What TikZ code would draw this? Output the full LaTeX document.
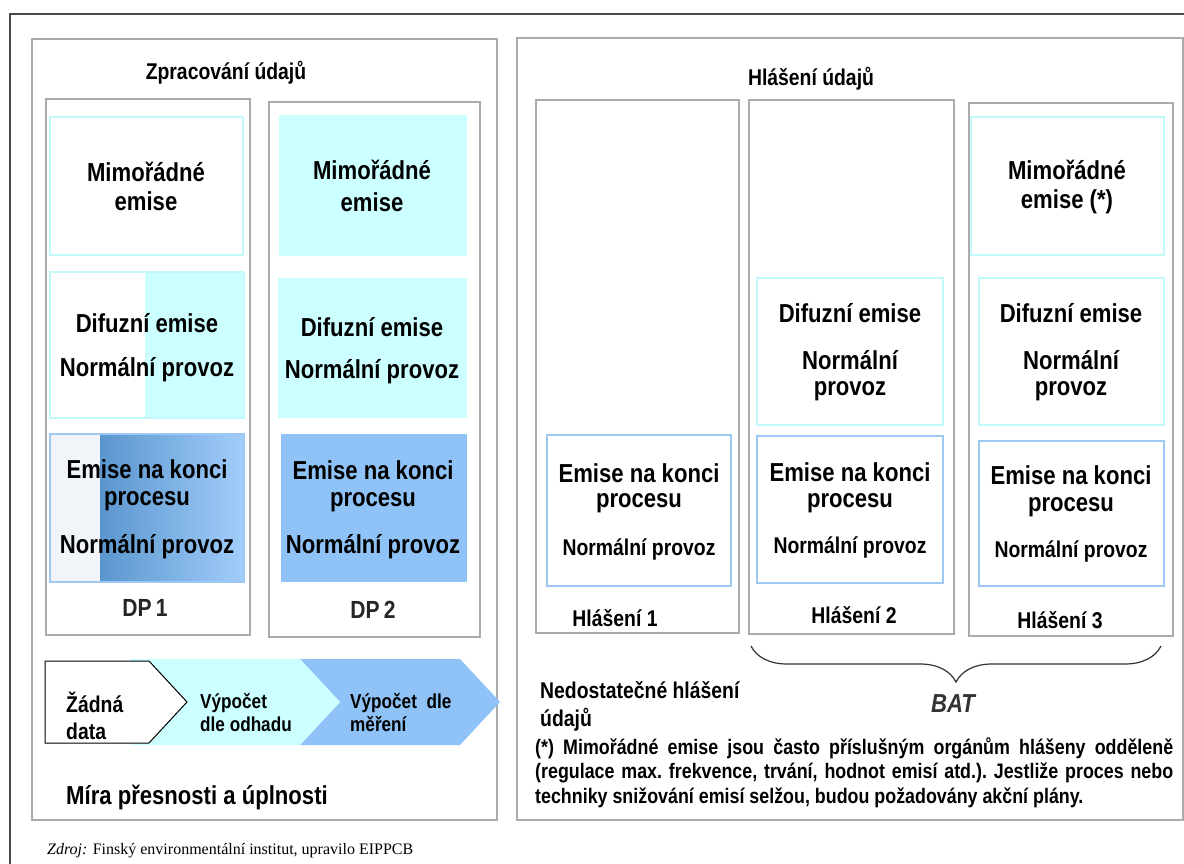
\documentclass[tikz,border=0pt]{standalone}
\usepackage{fontspec}
\setmainfont{Liberation Sans}[FakeStretch=0.85]
\newfontfamily\zdrojfont{Liberation Serif}
\usetikzlibrary{decorations.pathreplacing}
\definecolor{panelgray}{HTML}{ABABAB}
\definecolor{framegray}{HTML}{4A4A4A}
\definecolor{lightcyan}{HTML}{CCFFFF}
\definecolor{cyanline}{HTML}{C2FAFC}
\definecolor{midblue}{HTML}{8FC3F7}
\definecolor{blueline}{HTML}{9CC8F2}
\definecolor{darkblue}{HTML}{5A96CE}
\definecolor{paleblue}{HTML}{A2CDFB}
\definecolor{whiteblue}{HTML}{F1F5FA}
\tikzset{
  panel/.style={draw=panelgray, line width=1.6pt},
  column/.style={draw=panelgray, line width=1.4pt},
  cyanframe/.style={draw=cyanline, line width=1.6pt},
  blueframe/.style={draw=blueline, line width=1.6pt},
  bigtext/.style={inner sep=0pt, font=\fontsize{26}{31}\selectfont\bfseries},
  midtext/.style={inner sep=0pt, font=\fontsize{22.8}{28}\selectfont\bfseries},
  chevtext/.style={inner sep=0pt, anchor=west, align=left, font=\fontsize{20.2}{23}\selectfont\bfseries},
  dplabel/.style={inner sep=0pt, text=black!85, font=\fontsize{24.8}{29}\selectfont\bfseries},
}
\begin{document}
\begin{tikzpicture}[x=1pt, y=-1pt]
    \useasboundingbox (0,0) rectangle (1184,864);
    % Outer frame
    \draw[framegray, line width=1.3pt] (10,864) -- (10,14) -- (1184,14);
    % Panels
    \draw[panel] (32,39) rectangle (497,820);
    \draw[panel] (517,38) rectangle (1183,820);

    % ---- Data processing ----
    \node[midtext] (proctitle) at (226,73) {Zpracování údajů};
    \draw[column] (46,99) rectangle (250,635);
    \draw[column] (269,102) rectangle (480,637);

    % DP 1 boxes
    \draw[cyanframe, fill=white] (50,117) rectangle (243,255);
    \fill[lightcyan] (145,272) rectangle (244,418);
    \draw[cyanframe] (50,272) rectangle (244,418);
    \fill[whiteblue] (50,434) rectangle (100,582);
    \shade[left color=darkblue, right color=paleblue] (100,434) rectangle (244,582);
    \draw[blueframe] (50,434) rectangle (244,582);
    % DP 2 boxes
    \fill[lightcyan] (279,115) rectangle (467,256);
    \fill[lightcyan] (278,278) rectangle (467,418);
    \fill[midblue] (281,434) rectangle (467,582);

    % Labels DP 1
    \node[bigtext] (mimA) at (146,172) {Mimořádné};
    \node[bigtext] (mimAb) at (146,201) {emise};
    \node[bigtext] (difA) at (147,323) {Difuzní emise};
    \node[bigtext] (normA) at (147,370) {Normální provoz};
    \node[bigtext] (endA) at (147,469) {Emise na konci};
    \node[bigtext] (endAb) at (147,501) {procesu};
    \node[bigtext] (endAc) at (147,547) {Normální provoz};
    \node[dplabel] (dpA) at (145,608) {DP\,1};
    % Labels DP 2
    \node[bigtext] (mimB) at (372,170) {Mimořádné};
    \node[bigtext] (mimBb) at (372,202) {emise};
    \node[bigtext] (difB) at (372,327) {Difuzní emise};
    \node[bigtext] (normB) at (372,372) {Normální provoz};
    \node[bigtext] (endB) at (373,470) {Emise na konci};
    \node[bigtext] (endBb) at (373,502) {procesu};
    \node[bigtext] (endBc) at (373,547) {Normální provoz};
    \node[dplabel] (dpB) at (373,610) {DP\,2};

    % Chevrons
    \fill[midblue] (300,659) -- (460,659) -- (500,702) -- (460,745) -- (300,745) -- (340,702) -- cycle;
    \fill[lightcyan] (130,659) -- (300,659) -- (340,702) -- (300,745) -- (130,745) -- cycle;
    \draw[fill=white, line width=1pt] (45,661) -- (149,661) -- (187,702) -- (149,743) -- (45,743) -- cycle;
    \node[chevtext, font=\fontsize{22.8}{27}\selectfont\bfseries] (nodata) at (66,716) {Žádná\\data};
    \node[chevtext] (estimate) at (200,713) {Výpočet\\dle odhadu};
    \node[chevtext] (measure) at (350,713) {Výpočet\ \ dle\\měření};
    \node[bigtext, anchor=west] (accuracy) at (66,797) {Míra přesnosti a úplnosti};

    % ---- Data reporting ----
    \node[midtext] (reptitle) at (811,79) {Hlášení údajů};
    \draw[column] (536,100) rectangle (739,633);
    \draw[column] (749,100) rectangle (954,634);
    \draw[column] (969,103) rectangle (1173,636);

    % Boxes
    \draw[cyanframe] (971,117) rectangle (1164,255);
    \draw[cyanframe] (757,278) rectangle (943,425);
    \draw[cyanframe] (979,278) rectangle (1164,425);
    \draw[blueframe] (547,435) rectangle (731,586);
    \draw[blueframe] (757,436) rectangle (943,583);
    \draw[blueframe] (979,441) rectangle (1164,586);

    % Labels
    \node[bigtext] (mimC) at (1067,170) {Mimořádné};
    \node[bigtext] (mimCb) at (1067,202) {emise (*)};
    \node[bigtext] (difR2) at (850,313) {Difuzní emise};
    \node[bigtext] (normR2) at (850,360) {Normální};
    \node[bigtext] (normR2b) at (850,391) {provoz};
    \node[bigtext] (difR3) at (1071,313) {Difuzní emise};
    \node[bigtext] (normR3) at (1071,360) {Normální};
    \node[bigtext] (normR3b) at (1071,391) {provoz};
    \node[bigtext] (endR1) at (639,473) {Emise na konci};
    \node[bigtext] (endR1b) at (639,503) {procesu};
    \node[midtext] (endR1c) at (639,550) {Normální provoz};
    \node[bigtext] (endR2) at (850,472) {Emise na konci};
    \node[bigtext] (endR2b) at (850,503) {procesu};
    \node[midtext] (endR2c) at (850,548) {Normální provoz};
    \node[bigtext] (endR3) at (1071,475) {Emise na konci};
    \node[bigtext] (endR3b) at (1071,507) {procesu};
    \node[midtext] (endR3c) at (1071,552) {Normální provoz};
    \node[midtext] (repA) at (615,618) {Hlášení 1};
    \node[midtext] (repB) at (854,615) {Hlášení 2};
    \node[midtext] (repC) at (1060,620) {Hlášení 3};

    % Brace
    \coordinate (braceR) at (1161,646);
    \coordinate (braceL) at (751,646);
    \draw[black!80, line width=1.2pt, decorate, decoration={brace, amplitude=36pt}] (braceR) -- (braceL);
    \node[inner sep=0pt, text=black!80, font=\fontsize{26}{31}\selectfont\bfseries\itshape] (bat) at (953,704) {BAT};

    % Notes
    \node[midtext, anchor=west, align=left] (weak) at (540,706) {Nedostatečné hlášení\\údajů};
    \node[inner sep=0pt, anchor=north west, text width=638pt, align=justify,
          font=\fontsize{21}{24.5}\selectfont\bfseries] (note) at (535,737)
          {\frenchspacing\hyphenpenalty=10000 (*) Mimořádné emise jsou často příslušným orgánům hlášeny odděleně\linebreak (regulace max. frekvence, trvání, hodnot emisí atd.). Jestliže proces nebo\linebreak techniky snižování emisí selžou, budou požadovány akční plány.};
    \node[inner sep=0pt, anchor=west, font=\zdrojfont\fontsize{16}{19}\selectfont] (source) at (47,851) {\textit{Zdroj:} Finský environmentální institut, upravilo EIPPCB};
\end{tikzpicture}
\end{document}
